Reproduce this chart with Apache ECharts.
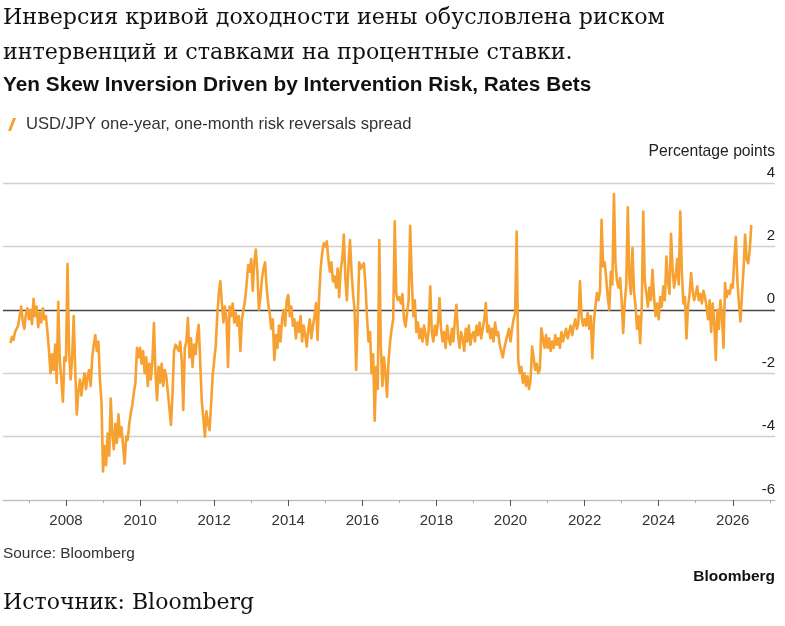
<!DOCTYPE html>
<html>
<head>
<meta charset="utf-8">
<script src="https://cdn.jsdelivr.net/npm/echarts@6/dist/echarts.min.js"></script>
<style>
  html, body { margin: 0; padding: 0; background: #fff; }
  #chart { width: 785px; height: 626px; }
</style>
</head>
<body>
<div id="chart"></div>
<script>
// Semi-monthly readings of the spread (pp).
// First point is mid-2006, 24 points per year after that.
const START_YEAR = 2006.5;
const PER_YEAR = 24;

const v2006 = [-1.05, -0.85, -0.95, -0.7, -0.75, -0.5, -0.2, 0.1, -0.35, -0.6, -0.15, 0.05];
const v2007 = [-0.3, 0.0, -0.45, 0.35, -0.2, 0.1, -0.55, -0.1, -0.4, 0.05, -0.3, -0.2, -0.7, -1.3, -2.0, -1.4, -1.9, -1.1, -2.3, 0.25, -1.6, -2.2, -2.9, -1.5];
const v2008 = [-1.6, 1.45, -1.3, -2.2, -1.5, -0.2, -1.9, -3.3, -2.6, -2.2, -2.7, -2.3, -2.0, -2.5, -2.1, -1.9, -2.4, -1.5, -1.1, -0.8, -1.3, -1.0, -2.2, -2.9];
const v2009 = [-5.1, -4.3, -4.9, -3.9, -4.6, -2.8, -3.9, -4.4, -3.6, -4.2, -3.3, -4.0, -3.7, -4.3, -4.85, -4.0, -4.1, -3.6, -3.25, -3.0, -2.6, -2.3, -1.2, -1.5];
const v2010 = [-1.2, -1.7, -1.3, -2.0, -1.5, -2.4, -1.7, -2.2, -1.6, -0.42, -2.0, -2.85, -1.8, -2.3, -1.7, -2.4, -1.9, -2.1, -2.6, -3.1, -3.63, -2.7, -1.3, -1.1];
const v2011 = [-1.1, -1.3, -1.0, -1.6, -3.16, -1.2, -1.0, -0.25, -1.5, -0.9, -1.8, -1.1, -1.4, -0.8, -0.47, -1.7, -2.9, -3.4, -4.0, -3.2, -3.6, -3.8, -3.0, -2.1];
const v2012 = [-1.6, -1.16, -0.2, 0.5, 0.9, 0.2, -0.4, 0.1, -0.3, -1.8, 0.1, -0.2, 0.2, -0.4, -0.1, -0.5, -0.2, -1.3, -0.3, 0.0, 0.3, 0.8, 1.4, 1.2];
const v2013 = [1.6, 0.6, 1.5, 1.9, 1.2, 0.0, 0.4, 1.0, 1.3, 1.5, 0.7, 0.2, -0.1, -0.6, -0.3, -1.58, -0.8, -1.2, -0.5, -1.0, -0.3, 0.0, -0.5, 0.3];
const v2014 = [0.47, -0.2, 0.1, -0.5, -0.3, -0.9, -0.4, -0.7, -0.2, -1.0, -0.5, -0.8, -1.16, -0.6, -0.3, -0.9, -0.5, -0.2, 0.21, -0.95, 0.4, 1.3, 1.8, 2.1];
const v2015 = [2.0, 2.16, 1.6, 1.2, 1.5, 0.9, 1.05, 0.7, 1.3, 0.4, 1.26, 1.6, 2.37, 1.0, 0.3, 1.4, 2.2, 1.2, 0.5, 0.0, -1.9, -0.2, 1.5, 1.3];
const v2016 = [1.4, 1.47, 0.8, -0.2, -1.0, -0.7, -2.0, -1.4, -3.5, -1.8, -2.5, 2.2, -1.2, -2.4, -1.5, -2.0, -2.74, -1.6, -1.0, -0.6, -0.3, 2.79, 0.5, 0.3];
const v2017 = [0.4, 0.2, 0.5, -0.3, -0.53, -0.1, 0.3, 2.65, 1.0, -0.2, 0.3, -0.7, -0.4, -0.9, -0.6, -1.0, -0.5, -0.8, -1.1, -0.6, 0.74, -0.7, -1.0, -0.5];
const v2018 = [-0.8, -0.4, 0.37, -0.6, -1.0, -0.7, -1.2, -0.5, -0.9, -1.1, -0.6, -1.0, -0.3, 0.16, -0.8, -1.2, -0.7, -0.9, -1.3, -0.6, -1.0, -0.5, -1.1, -0.8];
const v2019 = [-0.7, -1.0, -0.5, -0.8, -0.4, -0.9, -0.6, -0.3, 0.21, -0.7, -0.5, -0.9, -0.6, -1.0, -0.4, -0.8, -0.7, -1.1, -1.3, -1.5, -1.2, -1.0, -0.8, -0.6];
const v2020 = [-1.0, -0.6, -0.3, -0.1, 2.47, -1.6, -2.0, -1.8, -2.3, -2.0, -2.4, -2.1, -2.5, -2.2, -1.16, -1.5, -1.9, -1.7, -2.0, -1.9, -0.58, -0.9, -1.2, -0.8];
const v2021 = [-1.2, -0.9, -1.3, -1.0, -1.2, -0.8, -1.1, -0.9, -1.2, -0.7, -1.0, -0.8, -0.6, -0.9, -0.7, -0.5, -0.8, -0.5, -0.3, -0.6, -0.4, 0.9, -0.2, -0.5];
const v2022 = [-0.3, -0.5, -0.1, -0.6, -0.2, -1.53, -0.4, 0.1, 0.53, 0.3, 0.6, 2.84, 1.37, 1.5, 1.0, 0.4, 0.0, 1.2, 0.8, 3.65, 1.5, 0.9, 0.7, 1.0];
const v2023 = [0.3, -0.73, 0.2, 0.8, 3.23, 1.0, 0.5, 1.95, 0.6, 0.1, -0.6, -0.2, -1.05, 0.0, 3.1, 0.9, 0.53, 0.1, 0.7, 0.3, 1.26, 0.4, -0.2, 0.2];
const v2024 = [-0.3, 0.4, 0.1, 0.74, 0.3, 1.68, 0.9, 0.5, 2.4, 1.3, 0.7, 1.05, 1.6, 0.8, 3.1, 1.2, 0.2, 0.4, -0.9, 0.1, 0.5, 1.16, 0.6, 0.3];
const v2025 = [0.5, 0.74, 0.3, 0.5, 0.2, 0.6, 0.4, 0.1, -0.3, 0.3, -0.7, 0.2, -0.4, -1.58, 0.0, -0.6, 0.3, -0.2, -1.2, 0.84, 0.4, 0.6, 0.5, 0.8];
const v2026 = [0.7, 1.6, 2.3, 0.9, 0.2, -0.37, 0.5, 1.3, 2.37, 1.6, 1.47, 1.9, 2.68];

const spread = [].concat(v2006, v2007, v2008, v2009, v2010, v2011, v2012, v2013,
  v2014, v2015, v2016, v2017, v2018, v2019, v2020, v2021, v2022, v2023, v2024,
  v2025, v2026);

const yearLabels = [2008, 2010, 2012, 2014, 2016, 2018, 2020, 2022, 2024, 2026];
const minorYears = [2007, 2009, 2011, 2013, 2015, 2017, 2019, 2021, 2023, 2025, 2027];

const SERIES_NAME = "USD/JPY one-year, one-month risk reversals spread";
const ORANGE = "#f6a131";
const SANS = "'Liberation Sans', Arial, sans-serif";
const SERIF = "'DejaVu Serif', 'Liberation Serif', serif";

const chart = echarts.init(document.getElementById("chart"), null, { renderer: "canvas" });

const X_MIN = 2006.3;
const X_MAX = 2027.14;

chart.setOption({
  animation: false,
  backgroundColor: "#fff",
  grid: { left: 3, right: 10, top: 183, bottom: 126 },
  legend: {
    left: 3,
    top: 111,
    itemWidth: 8,
    itemHeight: 13,
    itemGap: 8,
    icon: "path://M0,12 L4.6,0 L7.4,0 L2.8,12 Z",
    textStyle: { fontFamily: SANS, fontSize: 16.6, color: "#333", padding: [0, 0, 0, 5] },
    data: [SERIES_NAME],
  },
  xAxis: [
    {
      type: "value",
      min: X_MIN,
      max: X_MAX,
      axisLine: { show: true, onZero: false, lineStyle: { color: "#bdbdbd", width: 1 } },
      axisTick: { show: true, customValues: yearLabels, length: 6, lineStyle: { color: "#555" } },
      axisLabel: {
        customValues: yearLabels,
        formatter: (v) => String(v),
        fontFamily: SANS,
        fontSize: 15,
        color: "#333",
        margin: 13,
      },
      splitLine: { show: false },
    },
    {
      type: "value",
      min: X_MIN,
      max: X_MAX,
      position: "bottom",
      axisLine: { show: false, onZero: false },
      axisTick: { show: true, customValues: minorYears, length: 3, lineStyle: { color: "#aaa" } },
      axisLabel: { show: false },
      splitLine: { show: false },
    },
  ],
  yAxis: {
    type: "value",
    position: "right",
    min: -6,
    max: 4,
    interval: 2,
    axisLine: { show: false },
    axisTick: { show: false },
    axisLabel: {
      inside: true,
      margin: 0,
      align: "right",
      verticalAlign: "bottom",
      padding: [0, 0, 3, 0],
      fontFamily: SANS,
      fontSize: 15,
      color: "#222",
    },
    splitLine: {
      show: true,
      lineStyle: {
        color: ["#d0d0d0", "#d0d0d0", "#d0d0d0", "#444", "#d0d0d0", "#d0d0d0"],
        width: 1.3,
      },
    },
  },
  graphic: [
    { type: "text", left: 3, top: 7, style: { text: "Инверсия кривой доходности иены обусловлена риском", font: "22.2px " + SERIF, fill: "#111" } },
    { type: "text", left: 3, top: 42, style: { text: "интервенций и ставками на процентные ставки.", font: "22.2px " + SERIF, fill: "#111" } },
    { type: "text", left: 3, top: 75, style: { text: "Yen Skew Inversion Driven by Intervention Risk, Rates Bets", font: "bold 20.8px " + SANS, fill: "#111" } },
    { type: "text", right: 10, top: 144, style: { text: "Percentage points", font: "15.7px " + SANS, fill: "#222" } },
    { type: "text", left: 3, top: 546, style: { text: "Source: Bloomberg", font: "15.4px " + SANS, fill: "#333" } },
    { type: "text", right: 10, top: 569, style: { text: "Bloomberg", font: "bold 15.5px " + SANS, fill: "#111" } },
    { type: "text", left: 3, top: 592, style: { text: "Источник: Bloomberg", font: "22px " + SERIF, fill: "#111" } },
  ],
  series: [
    {
      name: SERIES_NAME,
      type: "line",
      xAxisIndex: 0,
      data: spread.map((v, i) => [START_YEAR + i / PER_YEAR, v]),
      showSymbol: false,
      symbol: "none",
      color: ORANGE,
      lineStyle: { color: ORANGE, width: 2.6, join: "round" },
      z: 5,
    },
  ],
});
</script>
</body>
</html>
